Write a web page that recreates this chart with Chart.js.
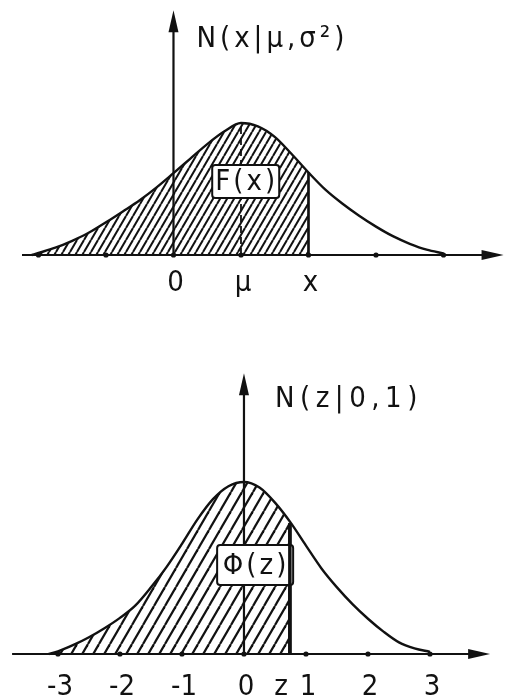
<!DOCTYPE html>
<html>
<head>
<meta charset="utf-8">
<title>Normalverteilung</title>
<script src="https://cdn.jsdelivr.net/npm/chart.js@4.4.1/dist/chart.umd.min.js"></script>
<style>
  html, body { margin: 0; padding: 0; background: #fff; }
  #page { position: relative; width: 505px; height: 700px; overflow: hidden; }
  canvas { position: absolute; left: 0; }
  #chartTop { top: 0; }
  #chartBottom { top: 340px; }
</style>
</head>
<body>
<div id="page">
  <canvas id="chartTop" width="505" height="330"></canvas>
  <canvas id="chartBottom" width="505" height="360"></canvas>
</div>
<script>
// N(x | mu, sigma^2) (mu = 1, axis units)
const topX = [-2.1, -2.0, -1.75, -1.5, -1.25, -1.0, -0.75, -0.5, -0.25, 0, 0.25, 0.5, 0.75, 1.0,
              1.25, 1.5, 1.75, 2.0, 2.25, 2.5, 2.75, 3.0, 3.25, 3.5, 3.75, 4.0];
const topY = [0, 0.006, 0.022, 0.043, 0.068, 0.099, 0.132, 0.166, 0.205, 0.248, 0.292, 0.336, 0.374, 0.400,
              0.390, 0.358, 0.306, 0.250, 0.198, 0.156, 0.119, 0.086, 0.057, 0.034, 0.016, 0.005];
const topEdge = [2.0];        // x, right end of F(x)
const topMean = [1.0];        // mu
const topTicks = [-2, -1, 0, 1, 2, 3, 4];
const topLabelAt = [0, 1, 2];
const topLabels = ['0', 'μ', 'x'];

// N(z | 0, 1)
const botX = [-3.15, -3.0, -2.75, -2.5, -2.25, -2.0, -1.75, -1.5, -1.25, -1.0, -0.75, -0.5, -0.25, 0,
              0.25, 0.5, 0.75, 1.0, 1.25, 1.5, 1.75, 2.0, 2.25, 2.5, 2.75, 3.0];
const botY = [0, 0.006, 0.021, 0.039, 0.060, 0.084, 0.113, 0.155, 0.202, 0.256, 0.313, 0.360, 0.390, 0.400,
              0.387, 0.352, 0.306, 0.252, 0.199, 0.155, 0.116, 0.082, 0.052, 0.027, 0.013, 0.005];
const botEdge = [0.74];       // z, right end of Phi(z)
const botEdgeY = [0.304];
const botTicks = [-3, -2, -1, 0, 1, 2, 3];
const botLabelAt = [-3, -2, -1, 0, 1, 2, 3];
const botLabels = ['-3', '-2', '-1', '0', '1', '2', '3'];

const INK = '#111';
const FONT = '"Liberation Sans Narrow", "DejaVu Sans Condensed", "Liberation Sans", sans-serif';

const pts = (xs, ys) => xs.map((x, i) => ({ x: x, y: ys[i] }));

function hatch(ctx, step, rise, width) {
  const tile = document.createElement('canvas');
  tile.width = step;
  tile.height = rise;
  const g = tile.getContext('2d');
  g.strokeStyle = INK;
  g.lineWidth = width;
  for (const dx of [-step, 0, step]) {
    g.beginPath();
    g.moveTo(dx, rise);
    g.lineTo(dx + step, 0);
    g.stroke();
  }
  return ctx.createPattern(tile, 'repeat');
}

function arrowHead(ctx, x, y, dir) {
  const len = 22, half = 5;
  ctx.beginPath();
  if (dir === 'up') {
    ctx.moveTo(x, y);
    ctx.lineTo(x - half, y + len);
    ctx.lineTo(x + half, y + len);
  } else {
    ctx.moveTo(x, y);
    ctx.lineTo(x - len, y - half);
    ctx.lineTo(x - len, y + half);
  }
  ctx.closePath();
  ctx.fill();
}

// axes with arrows, tick dots, tick labels, axis caption and the boxed area label
const axesPlugin = {
  id: 'axes',
  afterDatasetsDraw(chart, args, o) {
    const { ctx, scales: { x, y } } = chart;
    const x0 = x.getPixelForValue(0);
    const y0 = y.getPixelForValue(0);
    const left = x.getPixelForValue(o.from);
    const right = x.getPixelForValue(o.to);
    const top = y.getPixelForValue(o.up);
    ctx.save();
    ctx.strokeStyle = INK;
    ctx.fillStyle = INK;
    ctx.lineWidth = 2.2;
    ctx.beginPath();
    ctx.moveTo(left, y0);
    ctx.lineTo(right - 10, y0);
    ctx.moveTo(x0, y0);
    ctx.lineTo(x0, top + 10);
    ctx.stroke();
    arrowHead(ctx, right, y0, 'right');
    arrowHead(ctx, x0, top, 'up');

    o.ticks.forEach(v => {
      ctx.beginPath();
      ctx.arc(x.getPixelForValue(v), y0, 2.6, 0, Math.PI * 2);
      ctx.fill();
    });

    // area label box
    const bx = x.getPixelForValue(o.box.x), by = y.getPixelForValue(o.box.y);
    ctx.fillStyle = '#fff';
    ctx.lineWidth = 2;
    ctx.beginPath();
    ctx.roundRect(bx - o.box.w / 2, by - o.box.h / 2, o.box.w, o.box.h, 3);
    ctx.fill();
    ctx.stroke();
    ctx.fillStyle = INK;
    ctx.font = '29px ' + FONT;
    ctx.letterSpacing = '3px';
    ctx.textAlign = 'center';
    ctx.textBaseline = 'middle';
    ctx.fillText(o.box.text, bx + 1, by + 1);

    // the edge of the shaded area stays on top of the box
    const edge = chart.getDatasetMeta(1).data;
    ctx.lineWidth = o.edgeWidth;
    ctx.beginPath();
    ctx.moveTo(edge[0].x, edge[0].y);
    ctx.lineTo(edge[1].x, edge[1].y);
    ctx.stroke();

    ctx.font = '29px ' + FONT;
    ctx.textBaseline = 'alphabetic';
    ctx.letterSpacing = '0px';
    o.labelAt.forEach((v, i) => {
      ctx.fillText(o.labels[i], x.getPixelForValue(v) + 2, y0 + o.labelDrop);
    });
    if (o.extra) {
      ctx.textAlign = 'right';
      ctx.fillText(o.extra.text, x.getPixelForValue(o.extra.x) - 2, y0 + o.labelDrop);
    }

    ctx.textAlign = 'left';
    ctx.letterSpacing = o.titleSpacing + 'px';
    ctx.fillText(o.title, x0 + o.titleDx, o.titleY);
    ctx.restore();
  }
};

function makeChart(id, cfg) {
  const canvas = document.getElementById(id);
  const ctx = canvas.getContext('2d');
  const datasets = [
    { data: pts(cfg.xs, cfg.ys), borderColor: INK, borderWidth: 2.4, cubicInterpolationMode: 'monotone', fill: false },
    { data: pts([cfg.edge, cfg.edge], [0, cfg.edgeY]), borderColor: INK, borderWidth: cfg.axes.edgeWidth, tension: 0, fill: false }
  ];
  if (cfg.mean !== undefined) {
    datasets.push({ data: pts([cfg.mean, cfg.mean], [0, cfg.meanY]), borderColor: INK, borderWidth: 1.8,
                    borderDash: [7, 4], tension: 0, fill: false });
  }
  // hatched area under the curve up to the edge
  const shadeX = cfg.xs.filter(v => v < cfg.edge).concat([cfg.edge]);
  const shadeY = cfg.ys.slice(0, shadeX.length - 1).concat([cfg.edgeY]);
  datasets.push({ data: pts(shadeX, shadeY), borderWidth: 0, borderColor: 'rgba(0,0,0,0)',
                  cubicInterpolationMode: 'monotone',
                  fill: 'origin', backgroundColor: hatch(ctx, cfg.hatchStep, cfg.hatchRise, cfg.hatchWidth) });

  return new Chart(ctx, {
    type: 'line',
    data: { datasets: datasets },
    options: {
      responsive: false,
      animation: false,
      layout: { padding: 0, autoPadding: false },
      elements: { point: { radius: 0, hoverRadius: 0 } },
      scales: {
        x: { type: 'linear', display: false, min: cfg.xmin, max: cfg.xmax },
        y: { type: 'linear', display: false, min: cfg.ymin, max: cfg.ymax }
      },
      plugins: {
        legend: { display: false },
        tooltip: { enabled: false },
        axes: cfg.axes
      }
    },
    plugins: [axesPlugin]
  });
}

makeChart('chartTop', {
  xs: topX, ys: topY, edge: topEdge[0], edgeY: topY[topX.indexOf(topEdge[0])],
  mean: topMean[0], meanY: topY[topX.indexOf(topMean[0])],
  xmin: -2.570, xmax: 4.911, ymin: -0.2273, ymax: 0.7727,
  hatchStep: 7, hatchRise: 12, hatchWidth: 2,
  axes: {
    from: -2.244, to: 4.89, up: 0.742, ticks: topTicks, edgeWidth: 2.2,
    labelAt: topLabelAt, labels: topLabels, labelDrop: 36,
    title: 'N(x|μ,σ²)', titleDx: 23, titleY: 47, titleSpacing: 4,
    box: { x: 1.07, y: 0.223, w: 67, h: 33, text: 'F(x)' }
  }
});

makeChart('chartBottom', {
  xs: botX, ys: botY, edge: botEdge[0], edgeY: botEdgeY[0],
  xmin: -3.935, xmax: 4.210, ymin: -0.107, ymax: 0.7302,
  hatchStep: 11, hatchRise: 19, hatchWidth: 2.2,
  axes: {
    from: -3.74, to: 3.97, up: 0.653, ticks: botTicks, edgeWidth: 3.5,
    labelAt: botLabelAt, labels: botLabels, labelDrop: 41,
    extra: { text: 'z', x: botEdge[0] },
    title: 'N(z|0,1)', titleDx: 31, titleY: 67, titleSpacing: 5.5,
    box: { x: 0.18, y: 0.207, w: 76, h: 40, text: 'Φ(z)' }
  }
});
</script>
</body>
</html>
